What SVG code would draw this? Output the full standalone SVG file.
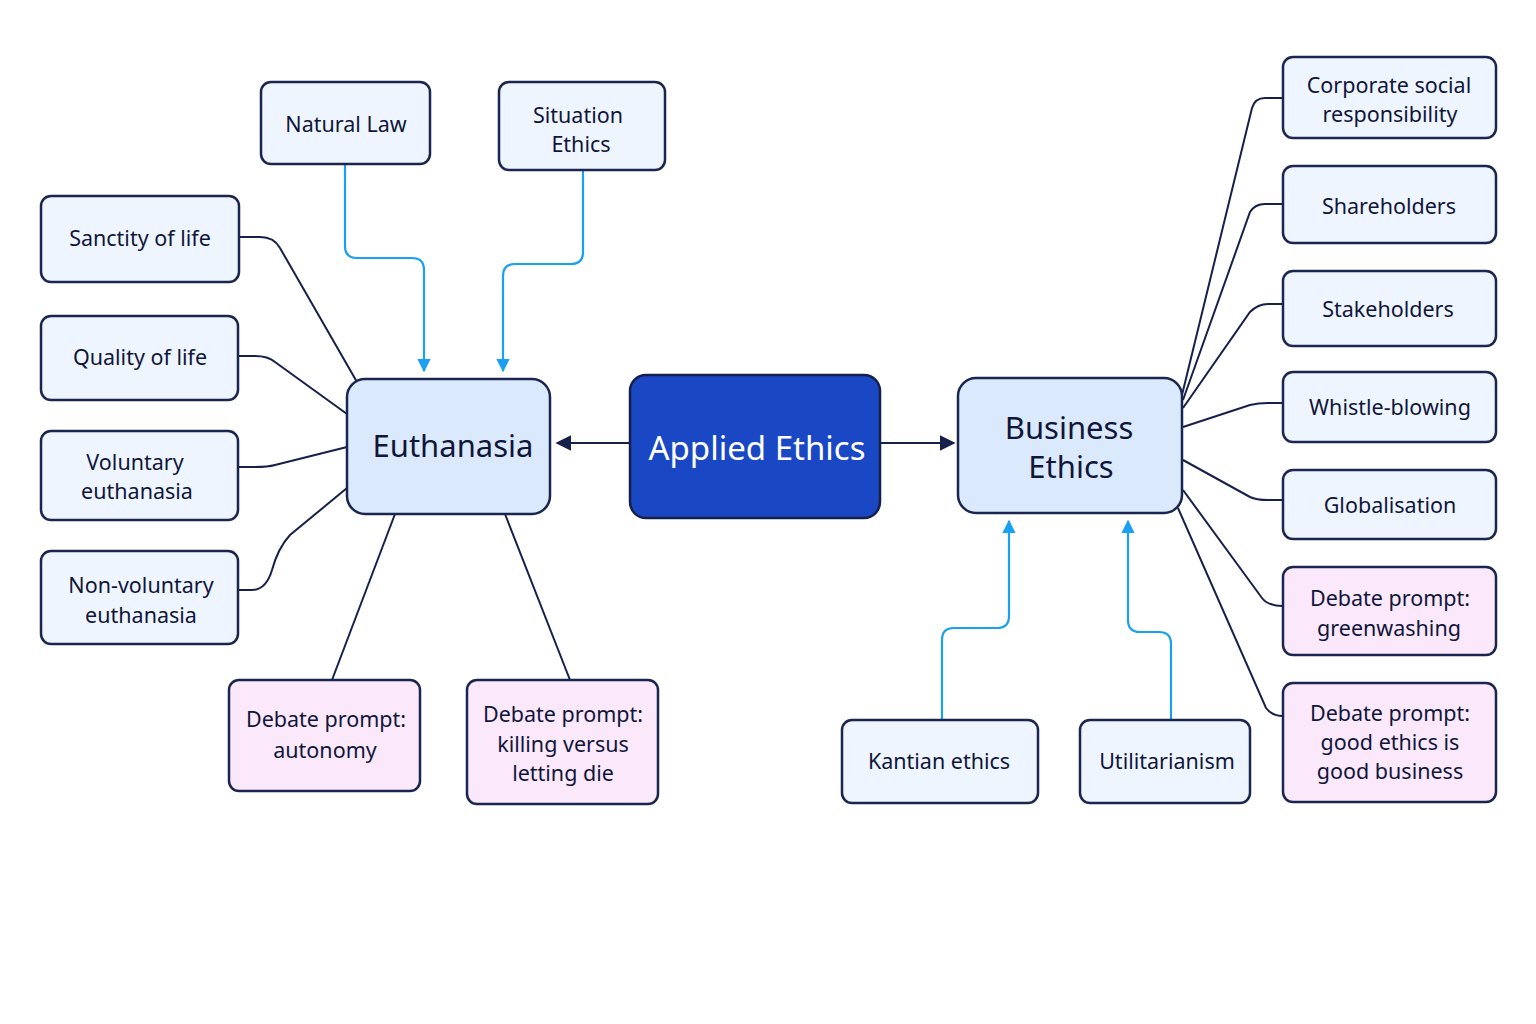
<svg xmlns="http://www.w3.org/2000/svg" width="1536" height="1024" viewBox="0 0 1536 1024">
<style>
text{font-family:"Noto Sans","Liberation Sans",sans-serif;fill:#10163a;text-anchor:middle;dominant-baseline:central}
.n rect{fill:#eef5fe;stroke:#1a2550;stroke-width:2.5}
.p rect{fill:#fbe8fb;stroke:#1a2550;stroke-width:2.5}
.h rect{fill:#dbe9fd;stroke:#1a2550;stroke-width:2.5}
.t{font-size:21.5px}
.dk{fill:none;stroke:#16204a;stroke-width:2}
.bl{fill:none;stroke:#1aa0f0;stroke-width:2.2}
</style>
<defs>
<marker id="ad" viewBox="0 0 10 10" refX="9" refY="5" markerWidth="8" markerHeight="8" orient="auto"><path d="M0,0L10,5L0,10z" fill="#16204a"/></marker>
<marker id="ab" viewBox="0 0 10 10" refX="9" refY="5" markerWidth="6" markerHeight="6" orient="auto"><path d="M0,0L10,5L0,10z" fill="#1aa0f0"/></marker>
</defs>
<rect width="1536" height="1024" fill="#fff"/>
<g id="connectors">
<path class="dk" d="M630,443H557" marker-end="url(#ad)"/>
<path class="dk" d="M880,443H954" marker-end="url(#ad)"/>
<path class="dk" d="M357,382L280,248Q274,237 260,237H239"/>
<path class="dk" d="M347,414L275,362Q268,356 255,356H238"/>
<path class="dk" d="M347,447L275,465Q268,467 255,467H238"/>
<path class="dk" d="M347,488L290,535Q278,548 272,570Q266,590 252,590H238"/>
<path class="dk" d="M395,514L332,680"/>
<path class="dk" d="M505,514L570,680"/>
<path class="bl" d="M345,164V246Q345,258 357,258H412Q424,258 424,270V371" marker-end="url(#ab)"/>
<path class="bl" d="M583,170V252Q583,264 571,264H515Q503,264 503,276V371" marker-end="url(#ab)"/>
<path class="bl" d="M942,720V640Q942,628 954,628H997Q1009,628 1009,616V521" marker-end="url(#ab)"/>
<path class="bl" d="M1171,720V644Q1171,632 1159,632H1140Q1128,632 1128,620V521" marker-end="url(#ab)"/>
<path class="dk" d="M1182,395L1252,108Q1255,98 1265,98H1283"/>
<path class="dk" d="M1183,400L1250,212Q1255,204 1265,204H1283"/>
<path class="dk" d="M1183,408L1250,312Q1258,304 1268,304H1283"/>
<path class="dk" d="M1183,427L1250,405Q1258,403 1268,403H1283"/>
<path class="dk" d="M1183,460L1250,497Q1256,500 1268,500H1283"/>
<path class="dk" d="M1183,490L1262,598Q1268,606 1283,606"/>
<path class="dk" d="M1178,508L1266,708Q1272,716 1283,716"/>
</g>
<g id="applied"><rect x="630" y="375" width="250" height="143" rx="16" fill="#1a47c4" stroke="#16204a" stroke-width="2.5"/><text x="757" y="447" font-size="33" style="fill:#fff">Applied Ethics</text></g>
<g id="euthanasia" class="h"><rect x="347" y="379" width="203" height="135" rx="18"/><text x="453" y="445" font-size="31">Euthanasia</text></g>
<g id="business" class="h"><rect x="958" y="378" width="224" height="135" rx="18"/><text x="1069" y="427" font-size="31">Business</text><text x="1071" y="466" font-size="31">Ethics</text></g>
<g id="natural" class="n"><rect x="261" y="82" width="169" height="82" rx="10"/><text class="t" x="346" y="123">Natural Law</text></g>
<g id="situation" class="n"><rect x="499" y="82" width="166" height="88" rx="10"/><text class="t" x="578" y="114">Situation</text><text class="t" x="581" y="143">Ethics</text></g>
<g id="sanctity" class="n"><rect x="41" y="196" width="198" height="86" rx="10"/><text class="t" x="140" y="237">Sanctity of life</text></g>
<g id="quality" class="n"><rect x="41" y="316" width="197" height="84" rx="10"/><text class="t" x="140" y="356">Quality of life</text></g>
<g id="voluntary" class="n"><rect x="41" y="431" width="197" height="89" rx="10"/><text class="t" x="135" y="461">Voluntary</text><text class="t" x="137" y="490">euthanasia</text></g>
<g id="nonvoluntary" class="n"><rect x="41" y="551" width="197" height="93" rx="10"/><text class="t" x="141" y="584">Non-voluntary</text><text class="t" x="141" y="614">euthanasia</text></g>
<g id="autonomy" class="p"><rect x="229" y="680" width="191" height="111" rx="10"/><text class="t" x="326" y="718">Debate prompt:</text><text class="t" x="325" y="749">autonomy</text></g>
<g id="killing" class="p"><rect x="467" y="680" width="191" height="124" rx="10"/><text class="t" x="563" y="713">Debate prompt:</text><text class="t" x="563" y="743">killing versus</text><text class="t" x="563" y="772">letting die</text></g>
<g id="kantian" class="n"><rect x="842" y="720" width="196" height="83" rx="10"/><text class="t" x="939" y="760">Kantian ethics</text></g>
<g id="util" class="n"><rect x="1080" y="720" width="170" height="83" rx="10"/><text class="t" x="1167" y="760">Utilitarianism</text></g>
<g id="csr" class="n"><rect x="1283" y="57" width="213" height="81" rx="10"/><text class="t" x="1389" y="84">Corporate social</text><text class="t" x="1390" y="113">responsibility</text></g>
<g id="shareholders" class="n"><rect x="1283" y="166" width="213" height="77" rx="10"/><text class="t" x="1389" y="205">Shareholders</text></g>
<g id="stakeholders" class="n"><rect x="1283" y="271" width="213" height="75" rx="10"/><text class="t" x="1388" y="308">Stakeholders</text></g>
<g id="whistle" class="n"><rect x="1283" y="372" width="213" height="70" rx="10"/><text class="t" x="1390" y="406">Whistle-blowing</text></g>
<g id="global" class="n"><rect x="1283" y="470" width="213" height="69" rx="10"/><text class="t" x="1390" y="504">Globalisation</text></g>
<g id="greenwashing" class="p"><rect x="1283" y="567" width="213" height="88" rx="10"/><text class="t" x="1390" y="597">Debate prompt:</text><text class="t" x="1389" y="627">greenwashing</text></g>
<g id="goodbusiness" class="p"><rect x="1283" y="683" width="213" height="119" rx="10"/><text class="t" x="1390" y="712">Debate prompt:</text><text class="t" x="1390" y="741">good ethics is</text><text class="t" x="1390" y="770">good business</text></g>
</svg>
